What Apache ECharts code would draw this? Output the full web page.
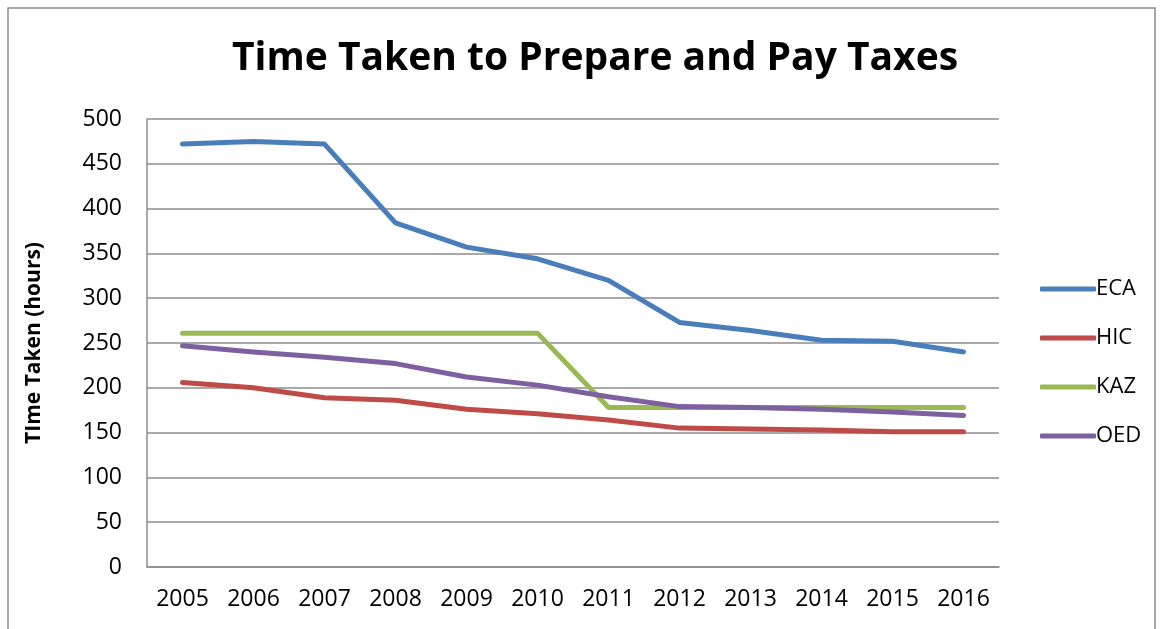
<!DOCTYPE html>
<html>
<head>
<meta charset="utf-8">
<script src="https://cdn.jsdelivr.net/npm/echarts@6/dist/echarts.min.js"></script>
<style>
  html, body { margin: 0; padding: 0; background: #fff; }
  #chart { width: 1163px; height: 629px; }
</style>
</head>
<body>
<div id="chart"></div>
<script>
// Hours needed to prepare and pay taxes, by region group
const years = ['2005', '2006', '2007', '2008', '2009', '2010', '2011', '2012', '2013', '2014', '2015', '2016'];
const eca = [472, 475, 472, 384, 357, 344, 320, 273, 264, 253, 252, 240];
const hic = [206, 200, 189, 186, 176, 171, 164, 155, 154, 153, 151, 151];
const kaz = [261, 261, 261, 261, 261, 261, 178, 178, 178, 178, 178, 178];
const oed = [247, 240, 234, 227, 212, 203, 190, 179, 178, 176, 173, 169];

const seriesNames = ['ECA', 'HIC', 'KAZ', 'OED'];
const seriesColors = ['#4a7ebb', '#be4b48', '#98b954', '#7d60a0'];
const seriesData = [eca, hic, kaz, oed];

const FONT = '"Open Sans", "Liberation Sans", sans-serif';

const chart = echarts.init(document.getElementById('chart'), null, { renderer: 'canvas' });

chart.setOption({
  animation: false,
  backgroundColor: '#ffffff',
  title: {
    text: 'Time Taken to Prepare and Pay Taxes',
    left: 590,
    textAlign: 'center',
    top: 34,
    textStyle: { fontFamily: FONT, fontSize: 39, fontWeight: 'bold', color: '#000' }
  },
  graphic: [{
    type: 'polyline',
    shape: { points: [[8, 629], [8, 8], [1155, 8], [1155, 629]] },
    style: { stroke: '#8c8c8c', lineWidth: 1.5, fill: null },
    silent: true
  }],
  legend: {
    orient: 'vertical',
    left: 1040,
    top: 278,
    padding: 0,
    itemGap: 27,
    itemWidth: 56,
    itemHeight: 5,
    icon: 'roundRect',
    textStyle: { fontFamily: FONT, fontSize: 22, lineHeight: 22, color: '#000', padding: [0, 0, 0, -5] },
    data: seriesNames.map((n, i) => ({ name: n, itemStyle: { color: seriesColors[i] } }))
  },
  grid: { left: 147, right: 164, top: 119, bottom: 62, containLabel: false },
  xAxis: {
    type: 'category',
    data: years,
    boundaryGap: true,
    axisLine: { lineStyle: { color: '#8c8c8c', width: 1.5 } },
    axisTick: { show: false },
    axisLabel: { fontFamily: FONT, fontSize: 23, color: '#000', margin: 21 }
  },
  yAxis: {
    type: 'value',
    min: 0,
    max: 500,
    interval: 50,
    name: 'TIme Taken (hours)',
    nameLocation: 'middle',
    nameGap: 102,
    nameTextStyle: { fontFamily: FONT, fontSize: 21, fontWeight: 'bold', color: '#000' },
    axisLine: { show: true, lineStyle: { color: '#8c8c8c', width: 1.5 } },
    axisTick: { show: false },
    axisLabel: { fontFamily: FONT, fontSize: 23, color: '#000', margin: 25 },
    splitLine: { lineStyle: { color: '#8c8c8c', width: 1.5 } }
  },
  series: seriesNames.map((n, i) => ({
    name: n,
    type: 'line',
    data: seriesData[i],
    symbol: 'none',
    color: seriesColors[i],
    lineStyle: { width: 5, color: seriesColors[i], cap: 'round', join: 'round' }
  }))
});
</script>
</body>
</html>
